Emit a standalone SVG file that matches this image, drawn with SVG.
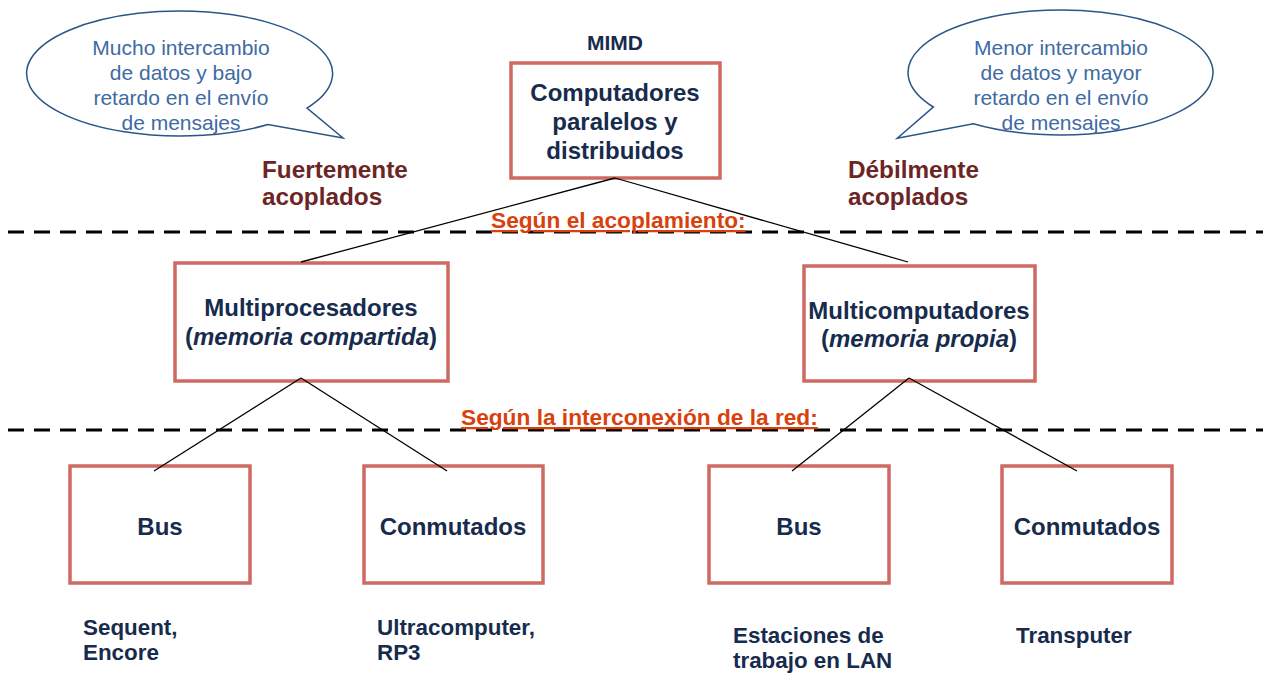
<svg xmlns="http://www.w3.org/2000/svg" width="1263" height="673" viewBox="0 0 1263 673">
<style>
  .box { fill: #ffffff; stroke: #cf6a63; stroke-width: 3.5; }
  .bt { font-family: "Liberation Sans", Arial, sans-serif; font-weight: bold; font-size: 24px; fill: #172b4d; text-anchor: middle; }
  .lbl { font-family: "Liberation Sans", Arial, sans-serif; font-weight: bold; font-size: 22.4px; fill: #172b4d; }
  .bub { fill: #ffffff; stroke: #2a5586; stroke-width: 1.5; }
  .bubt { font-family: "Liberation Sans", Arial, sans-serif; font-size: 21px; fill: #3e6ba3; text-anchor: middle; }
  .cpl { font-family: "Liberation Sans", Arial, sans-serif; font-weight: bold; font-size: 24.3px; fill: #6b2525; }
  .sec { font-family: "Liberation Sans", Arial, sans-serif; font-weight: bold; font-size: 22.7px; fill: #d8410e; text-decoration: underline; }
  .dash { stroke: #000000; stroke-width: 3; stroke-dasharray: 16 10; fill: none; }
  .conn { stroke: #000000; stroke-width: 1.3; fill: none; }
</style>

<g id="bubble-left">
  <path class="bub" d="M307,108.1 A153,62.5 0 1 0 268,124.5 L343,138 Z"/>
  <text class="bubt" x="181" y="55">Mucho intercambio</text>
  <text class="bubt" x="181" y="80">de datos y bajo</text>
  <text class="bubt" x="181" y="105">retardo en el envío</text>
  <text class="bubt" x="181" y="130">de mensajes</text>
</g>

<g id="bubble-right">
  <path class="bub" d="M933.3,107 A152.5,62.5 0 1 1 973.3,123.8 L897.3,138.3 Z"/>
  <text class="bubt" x="1061" y="55">Menor intercambio</text>
  <text class="bubt" x="1061" y="80">de datos y mayor</text>
  <text class="bubt" x="1061" y="105">retardo en el envío</text>
  <text class="bubt" x="1061" y="130">de mensajes</text>
</g>

<g id="label-fuertemente">
  <text class="cpl" x="262" y="178">Fuertemente</text>
  <text class="cpl" x="262" y="205">acoplados</text>
</g>
<g id="label-debilmente">
  <text class="cpl" x="848" y="178">Débilmente</text>
  <text class="cpl" x="848" y="205">acoplados</text>
</g>

<g id="separators">
  <line class="dash" x1="8" y1="232" x2="1263" y2="232"/>
  <line class="dash" x1="8" y1="430" x2="1263" y2="430"/>
  <text class="sec" x="491" y="228">Según el acoplamiento:</text>
  <text class="sec" x="461" y="425">Según la interconexión de la red:</text>
</g>

<g id="node-mimd">
  <text class="bt" x="615" y="50" style="font-size:21px">MIMD</text>
  <rect class="box" x="511" y="63" width="209" height="115"/>
  <text class="bt" x="615" y="101">Computadores</text>
  <text class="bt" x="615" y="130">paralelos y</text>
  <text class="bt" x="615" y="159">distribuidos</text>
</g>

<g id="node-multiprocesadores">
  <rect class="box" x="175" y="263" width="273" height="118"/>
  <text class="bt" x="311" y="316">Multiprocesadores</text>
  <text class="bt" x="311" y="345">(<tspan font-style="italic">memoria compartida</tspan>)</text>
</g>

<g id="node-multicomputadores">
  <rect class="box" x="804" y="266" width="231" height="115"/>
  <text class="bt" x="919" y="319">Multicomputadores</text>
  <text class="bt" x="919" y="347">(<tspan font-style="italic">memoria propia</tspan>)</text>
</g>

<g id="node-bus-left">
  <rect class="box" x="70" y="466" width="180" height="117"/>
  <text class="bt" x="160" y="535">Bus</text>
</g>

<g id="node-conmutados-left">
  <rect class="box" x="364" y="466" width="179" height="117"/>
  <text class="bt" x="453" y="535">Conmutados</text>
</g>

<g id="node-bus-right">
  <rect class="box" x="709" y="466" width="180" height="117"/>
  <text class="bt" x="799" y="535">Bus</text>
</g>

<g id="node-conmutados-right">
  <rect class="box" x="1002" y="466" width="170" height="117"/>
  <text class="bt" x="1087" y="535">Conmutados</text>
</g>

<g id="connectors">
  <line class="conn" x1="615" y1="178" x2="301" y2="262"/>
  <line class="conn" x1="615" y1="178" x2="908" y2="262"/>
  <line class="conn" x1="301" y1="378" x2="154" y2="471"/>
  <line class="conn" x1="301" y1="378" x2="447" y2="471"/>
  <line class="conn" x1="909" y1="378" x2="792" y2="471"/>
  <line class="conn" x1="909" y1="378" x2="1077" y2="471"/>
</g>

<g id="examples">
  <text class="lbl" x="83" y="635">Sequent,</text>
  <text class="lbl" x="83" y="660">Encore</text>
  <text class="lbl" x="377" y="635">Ultracomputer,</text>
  <text class="lbl" x="377" y="660">RP3</text>
  <text class="lbl" x="733" y="643">Estaciones de</text>
  <text class="lbl" x="733" y="668">trabajo en LAN</text>
  <text class="lbl" x="1016" y="643">Transputer</text>
</g>
</svg>
